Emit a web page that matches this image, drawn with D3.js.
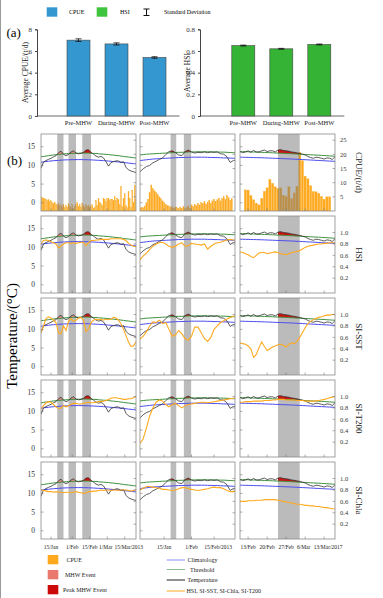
<!DOCTYPE html>
<html><head><meta charset="utf-8">
<script src="https://cdn.jsdelivr.net/npm/d3@7"></script>
<style>body{margin:0;background:#fff}svg{display:block;font-family:"Liberation Serif","Times New Roman",serif}</style>
</head><body><svg id="c" width="383" height="598"></svg>
<script>
// ---------- Panel (a) data ----------
const periods = ["Pre-MHW","During-MHW","Post-MHW"];
const cpueAvg = [7.0, 6.65, 5.4];
const cpueSd  = [0.12, 0.1, 0.07];
const hsiAvg  = [0.65, 0.62, 0.66];
const hsiSd   = [0.004, 0.004, 0.004];
const cpueTicksA = [0,2,4,6,8];
const hsiTicksA  = [0,0.2,0.4,0.6,0.8];

// ---------- Panel (b) time frames ----------
const colStart = ["2013-01-07","2012-12-31","2017-02-10"];
const colEnd   = ["2013-03-24","2013-02-28","2017-03-17"];
const seriesStep = [2,2,1];           // days between samples of line series
const cpueStart = ["2013-01-07","2012-12-31","2017-02-12"];
const tickDates = [
  ["2013-01-15","2013-02-01","2013-02-15","2013-03-01","2013-03-15"],
  ["2013-01-15","2013-02-01","2013-02-15"],
  ["2017-02-13","2017-02-20","2017-02-27","2017-03-06","2017-03-13"]];
const tickLabels = [
  ["15/Jan","1/Feb","15/Feb","1/Mar","15/Mar/2013"],
  ["15/Jan","1/Feb","15/Feb/2013"],
  ["13/Feb","20/Feb","27/Feb","6/Mar","13/Mar/2017"]];
const mhwWindows = [
  [["2013-01-20","2013-01-25"],["2013-01-29","2013-02-04"],["2013-02-09","2013-02-16"]],
  [["2013-01-19","2013-01-22T12:00"],["2013-01-27T06:00","2013-01-31T18:00"]],
  [["2017-02-24","2017-03-04"]]];
const mhwType = [["event","event","peak"],["peak","peak"],["peak"]];

// ---------- Temperature, threshold, climatology ----------
const temp1 = [9.2,10.9,11.3,11.6,11.9,12.3,12.6,13.4,13.8,13.0,12.6,12.9,13.6,13.9,13.3,13.1,13.2,13.5,14.1,14.2,13.5,13.0,12.5,12.2,12.4,12.0,11.0,9.8,10.8,11.0,11.2,11.2,10.8,11.0,9.5,8.8,8.5,8.3,8.1];
const thr1  = [12.3,12.4,12.5,12.6,12.7,12.8,12.85,12.9,13.0,13.05,13.1,13.15,13.2,13.2,13.25,13.25,13.3,13.3,13.3,13.3,13.25,13.2,13.2,13.1,13.05,13.0,12.95,12.9,12.8,12.75,12.65,12.6,12.5,12.4,12.3,12.25,12.15,12.05,12.0];
const clim1 = [10.85,10.95,11.05,11.1,11.2,11.25,11.3,11.35,11.4,11.45,11.48,11.5,11.52,11.54,11.55,11.55,11.55,11.54,11.52,11.5,11.47,11.44,11.4,11.36,11.32,11.27,11.22,11.16,11.1,11.04,10.98,10.92,10.85,10.78,10.7,10.62,10.55,10.47,10.4];
const temp2 = [8.3,9.1,9.7,10.0,10.7,11.1,11.6,12.0,12.9,13.7,13.9,13.4,12.8,12.6,13.7,14.1,13.6,13.3,13.5,13.4,13.6,13.4,13.6,13.5,13.6,13.1,13.0,12.3,10.8,11.3,11.5];
const thr2  = [12.8,12.9,13.0,13.05,13.1,13.15,13.2,13.25,13.3,13.35,13.4,13.45,13.5,13.5,13.55,13.6,13.6,13.6,13.65,13.65,13.65,13.65,13.6,13.6,13.6,13.55,13.55,13.5,13.45,13.4,13.4];
const clim2 = [11.3,11.4,11.5,11.6,11.7,11.75,11.8,11.85,11.9,11.95,12.0,12.05,12.1,12.1,12.15,12.15,12.2,12.2,12.2,12.2,12.2,12.15,12.15,12.1,12.1,12.05,12.0,12.0,11.95,11.9,11.9];
const temp3 = [13.7,13.4,13.6,13.9,13.5,14.0,13.6,13.6,13.9,14.1,13.7,13.9,13.9,13.6,14.1,14.2,14.0,13.9,13.8,13.6,13.5,13.35,13.2,13.0,12.8,12.4,12.1,11.9,12.2,12.1,11.9,11.7,12.0,11.9,11.6,12.3];
const thr3  = [13.7,13.68,13.66,13.64,13.61,13.58,13.55,13.52,13.49,13.46,13.43,13.4,13.37,13.33,13.3,13.26,13.23,13.19,13.15,13.12,13.08,13.04,13.0,12.96,12.92,12.88,12.84,12.8,12.76,12.72,12.68,12.64,12.59,12.54,12.49,12.44];
const clim3 = [12.2,12.18,12.16,12.14,12.12,12.1,12.08,12.06,12.04,12.01,11.98,11.95,11.92,11.89,11.86,11.83,11.8,11.77,11.74,11.71,11.68,11.64,11.6,11.56,11.52,11.48,11.44,11.4,11.36,11.32,11.28,11.24,11.2,11.16,11.12,11.08];

// ---------- CPUE (daily, t/d) ----------
const cpue1 = [5.0,4.8,4.5,4.4,4.2,3.8,4.0,3.5,3.6,3.0,2.8,3.2,2.4,2.2,2.6,1.8,2.2,1.5,2.4,1.2,2.0,1.4,2.6,1.8,1.2,2.2,1.0,1.8,2.5,3.0,1.6,2.2,1.4,2.8,2.0,1.2,2.4,1.6,2.0,1.4,1.8,2.2,1.0,1.4,3.8,2.0,4.4,3.2,2.6,2.0,4.6,4.2,3.4,4.4,4.6,3.8,4.2,4.2,3.6,5.0,3.8,4.6,4.0,2.2,8.8,1.6,4.4,6.2,2.0,1.2,6.8,4.4,1.4,7.4,3.2,9.2,4.0,1.2];
const cpue2 = [1.0,1.4,1.2,1.8,3.0,4.2,6.5,9.2,8.0,7.2,6.6,5.8,5.0,4.4,3.6,3.0,2.4,2.0,1.8,1.2,1.6,1.0,1.4,1.2,0.8,1.4,1.0,1.6,0.8,1.2,1.8,1.0,2.2,1.6,2.4,2.0,2.8,2.2,3.0,2.6,3.4,2.4,3.2,3.8,2.8,3.6,4.2,3.4,4.0,4.6,3.6,4.4,5.0,4.2,5.6,4.8,3.8,4.4];
const cpue3 = [7.5,7.4,5.5,4.0,2.8,2.2,4.5,7.0,8.2,11.2,9.8,8.6,8.0,8.2,5.6,5.2,8.6,4.4,6.4,8.8,20.8,17.8,12.3,11.4,9.0,6.9,6.8,6.3,5.2,4.2,5.0,5.0];

// ---------- Suitability indices ----------
const hsi1 = [0.80,0.86,0.87,0.86,0.84,0.82,0.80,0.73,0.76,0.80,0.82,0.82,0.81,0.82,0.81,0.82,0.83,0.83,0.77,0.82,0.86,0.86,0.87,0.87,0.88,0.88,0.88,0.88,0.89,0.89,0.89,0.89,0.89,0.88,0.86,0.81,0.78,0.76,0.75];
const hsi2 = [0.52,0.59,0.64,0.70,0.76,0.80,0.82,0.83,0.80,0.76,0.74,0.76,0.80,0.82,0.76,0.77,0.81,0.80,0.79,0.78,0.80,0.71,0.76,0.80,0.82,0.83,0.85,0.87,0.88,0.87,0.87];
const hsi3 = [0.66,0.65,0.63,0.61,0.58,0.56,0.60,0.64,0.65,0.65,0.63,0.64,0.65,0.66,0.65,0.63,0.62,0.61,0.63,0.65,0.66,0.67,0.68,0.71,0.74,0.76,0.77,0.78,0.79,0.80,0.80,0.81,0.81,0.82,0.82,0.82];
const sst1 = [0.68,0.80,0.93,0.96,0.94,0.90,0.86,0.68,0.66,0.80,0.72,0.88,0.93,0.88,0.90,0.94,0.95,0.90,0.70,0.75,0.86,0.90,0.92,0.91,0.92,0.90,0.92,0.91,0.92,0.95,0.94,0.90,0.84,0.74,0.63,0.52,0.44,0.45,0.52];
const sst2 = [0.57,0.62,0.70,0.80,0.87,0.86,0.90,0.84,0.86,0.74,0.62,0.64,0.72,0.66,0.58,0.55,0.62,0.78,0.78,0.68,0.58,0.53,0.60,0.74,0.80,0.86,0.89,0.92,0.95,0.97,0.98];
const sst3 = [0.50,0.49,0.48,0.45,0.40,0.25,0.30,0.42,0.52,0.44,0.37,0.40,0.43,0.45,0.47,0.48,0.46,0.43,0.48,0.50,0.49,0.53,0.60,0.68,0.77,0.84,0.88,0.91,0.93,0.95,0.96,0.98,0.99,0.99,1.00,1.00];
const t200_1 = [0.78,0.84,0.89,0.91,0.90,0.86,0.82,0.79,0.80,0.84,0.82,0.84,0.86,0.88,0.88,0.87,0.87,0.88,0.89,0.90,0.89,0.89,0.90,0.91,0.91,0.92,0.93,0.95,0.97,0.98,0.98,0.97,0.96,0.95,0.95,0.96,0.96,0.98,1.00];
const t200_2 = [0.18,0.26,0.45,0.66,0.80,0.90,0.94,0.92,0.86,0.82,0.86,0.88,0.84,0.80,0.84,0.86,0.87,0.88,0.89,0.90,0.90,0.89,0.90,0.91,0.92,0.93,0.94,0.95,0.96,0.97,0.97];
const t200_3 = [0.90,0.90,0.91,0.91,0.91,0.92,0.92,0.92,0.92,0.93,0.93,0.93,0.94,0.94,0.95,0.95,0.95,0.94,0.94,0.94,0.94,0.93,0.93,0.93,0.92,0.92,0.92,0.92,0.92,0.93,0.94,0.95,0.96,0.98,0.99,1.00];
const chla1 = [0.80,0.79,0.78,0.77,0.77,0.76,0.77,0.76,0.76,0.75,0.76,0.76,0.75,0.76,0.77,0.76,0.75,0.74,0.75,0.77,0.77,0.78,0.78,0.79,0.80,0.79,0.80,0.80,0.79,0.80,0.80,0.79,0.80,0.80,0.80,0.79,0.78,0.79,0.80];
const chla2 = [0.80,0.83,0.86,0.86,0.85,0.84,0.83,0.81,0.81,0.80,0.79,0.80,0.82,0.84,0.84,0.82,0.81,0.80,0.79,0.80,0.81,0.82,0.84,0.85,0.84,0.84,0.82,0.79,0.77,0.77,0.78];
const chla3 = [0.60,0.60,0.60,0.61,0.61,0.61,0.62,0.62,0.62,0.63,0.63,0.63,0.63,0.63,0.62,0.61,0.60,0.59,0.58,0.57,0.56,0.55,0.55,0.54,0.53,0.53,0.52,0.52,0.51,0.51,0.50,0.49,0.49,0.48,0.47,0.47];

const rowLabels = ["CPUE/(t/d)","HSI","SI-SST","SI-T200","SI-Chla"];
const tempTicks = [0,5,10,15];
const cpueTicksB = [5,10,15,20,25];
const siTicks = [0.2,0.4,0.6,0.8,1.0];

// ---------- styles ----------
const C_BLUEBAR="#3497cf", C_GREENBAR="#34b334", C_ORANGE="#ffa91f", C_SALMON="#e9796d", C_RED="#cc0a0a";
const C_CLIM="#4b4bf0", C_THR="#3f913f", C_TEMP="#333", C_SHADE="#777", C_FRAME="#8a8a8a";

const svg = d3.select("#c");
const DAY = 864e5;
const P = d3.isoParse;

svg.append("line").attr("x1",0.5).attr("x2",0.5).attr("y1",0).attr("y2",598).attr("stroke","#9a9a9a").attr("stroke-width",1);

// ================= Panel (a) =================
svg.append("rect").attr("x",46.7).attr("y",7.3).attr("width",10.6).attr("height",9.4).attr("fill",C_BLUEBAR);
svg.append("text").attr("x",69).attr("y",14.2).attr("font-size",6).text("CPUE");
svg.append("rect").attr("x",96.7).attr("y",7.3).attr("width",10.6).attr("height",9.4).attr("fill","#3ec43e");
svg.append("text").attr("x",120).attr("y",14.2).attr("font-size",6).text("HSI");
const eb = svg.append("g").attr("stroke","#111").attr("stroke-width",1);
eb.append("line").attr("x1",146.5).attr("x2",146.5).attr("y1",9).attr("y2",15.5);
eb.append("line").attr("x1",143.5).attr("x2",149.5).attr("y1",9).attr("y2",9);
eb.append("line").attr("x1",143.5).attr("x2",149.5).attr("y1",15.5).attr("y2",15.5);
svg.append("text").attr("x",164).attr("y",14.2).attr("font-size",6).text("Standard Deviation");
svg.append("text").attr("x",6.5).attr("y",37).attr("font-size",13).text("(a)");

function barChart(axisX, r0, r1, vals, sds, dom, ticks, fmt, fill, ylab, labX){
  const y = d3.scaleLinear().domain(dom).range([116,29.3]);
  const xb = d3.scaleBand().domain(periods).range([r0,r1]).paddingInner(0.395).paddingOuter(0.1975);
  const g = svg.append("g");
  g.append("g").attr("transform",`translate(${axisX},0)`)
    .call(d3.axisLeft(y).tickValues(ticks).tickSize(2).tickFormat(fmt))
    .call(a=>{a.select(".domain").attr("stroke","#444");a.selectAll("line").attr("stroke","#444");
      a.selectAll("text").attr("font-size",7).attr("font-family",'"Liberation Serif",serif').attr("fill","#333");});
  g.append("line").attr("x1",axisX).attr("x2",r1+6).attr("y1",116).attr("y2",116).attr("stroke","#444").attr("stroke-width",0.8);
  g.selectAll("rect.b").data(periods).join("rect")
    .attr("x",d=>xb(d)).attr("y",(d,i)=>y(vals[i])).attr("width",xb.bandwidth())
    .attr("height",(d,i)=>y(0)-y(vals[i])).attr("fill",fill).attr("stroke","#444").attr("stroke-width",0.6);
  periods.forEach((p,i)=>{
    const cx = xb(p)+xb.bandwidth()/2, lo=y(vals[i]-sds[i]), hi=y(vals[i]+sds[i]);
    g.append("line").attr("x1",cx).attr("x2",cx).attr("y1",lo).attr("y2",hi).attr("stroke","#111").attr("stroke-width",0.8);
    [lo,hi].forEach(v=>g.append("line").attr("x1",cx-3).attr("x2",cx+3).attr("y1",v).attr("y2",v).attr("stroke","#111").attr("stroke-width",0.8));
    g.append("text").attr("x",cx).attr("y",124.5).attr("text-anchor","middle").attr("font-size",6.5).attr("fill","#222").text(p);
  });
  g.append("text").attr("transform",`translate(${labX},72.5) rotate(-90)`).attr("text-anchor","middle")
    .attr("font-size",7.5).attr("fill","#222").text(ylab);
}
barChart(37, 59.5, 173.5, cpueAvg, cpueSd, [0,8], cpueTicksA, d3.format("d"), C_BLUEBAR, "Average CPUE/(t/d)", 28);
barChart(200, 224.3, 338.3, hsiAvg, hsiSd, [0,0.8], hsiTicksA, v=>v===0?"0":d3.format(".1f")(v), C_GREENBAR, "Average HSI", 190);

// ================= Panel (b) =================
svg.append("text").attr("x",7).attr("y",165).attr("font-size",13).text("(b)");
svg.append("text").attr("transform","translate(17,336) rotate(-90)").attr("text-anchor","middle")
  .attr("font-size",15).text("Temperature/(°C)");

const rowTop=[134,216,298,380,462], rowH=77;
const colX=[[41,136],[140,235],[240,335]];
const tempData=[temp1,temp2,temp3], thrData=[thr1,thr2,thr3], climData=[clim1,clim2,clim3];
const cpueData=[cpue1,cpue2,cpue3];
const siData=[[hsi1,hsi2,hsi3],[sst1,sst2,sst3],[t200_1,t200_2,t200_3],[chla1,chla2,chla3]];
const defs = svg.append("defs");
let clipN=0;
function clip(x,y,w,h){const id="cp"+(clipN++);defs.append("clipPath").attr("id",id).append("rect").attr("x",x).attr("y",y).attr("width",w).attr("height",h);return `url(#${id})`;}

for(let r=0;r<5;r++){
  const top=rowTop[r], bot=top+rowH;
  const yT=d3.scaleLinear().domain([-2.2,18.4]).range([bot,top]);
  const yR = r===0 ? d3.scaleLinear().domain([0,27.2]).range([bot,top]) : d3.scaleLinear().domain([-0.06,1.29]).range([bot,top]);
  for(let c=0;c<3;c++){
    const [x0,x1]=colX[c];
    const x=d3.scaleUtc().domain([P(colStart[c]),P(colEnd[c])]).range([x0,x1]);
    const g=svg.append("g");
    const cp=clip(x0,top,x1-x0,rowH);
    const inner=g.append("g").attr("clip-path",cp);
    const s0=P(colStart[c]);
    const pts=tempData[c].map((t,i)=>({date:new Date(+s0+i*seriesStep[c]*DAY),t,thr:thrData[c][i],cl:climData[c][i]}));
    if(r===0){
      const c0=P(cpueStart[c]); const pxd=(x1-x0)/((+P(colEnd[c])-+P(colStart[c]))/DAY); const bw=pxd*0.86;
      inner.selectAll("rect.cp").data(cpueData[c]).join("rect")
        .attr("x",(v,i)=>x(new Date(+c0+i*DAY))-bw/2).attr("width",bw)
        .attr("y",v=>yR(v)).attr("height",v=>yR(0)-yR(v)).attr("fill",C_ORANGE)
        .attr("stroke","#f5b84a").attr("stroke-width",0.2);
    }
    mhwWindows[c].forEach(w=>{
      inner.append("rect").attr("x",x(P(w[0]))).attr("width",x(P(w[1]))-x(P(w[0])))
        .attr("y",top).attr("height",rowH).attr("fill",C_SHADE).attr("opacity",0.5);
    });
    const area=d3.area().x(d=>x(d.date)).y0(d=>yT(d.thr)).y1(d=>yT(Math.max(d.t,d.thr)));
    mhwWindows[c].forEach((w,i)=>{
      const cpw=clip(x(P(w[0])),top,x(P(w[1]))-x(P(w[0])),rowH);
      inner.append("g").attr("clip-path",cpw).append("path").attr("d",area(pts))
        .attr("fill",mhwType[c][i]==="peak"?C_RED:C_SALMON).attr("opacity",mhwType[c][i]==="peak"?0.95:0.75);
    });
    const ln=(f)=>d3.line().x(d=>x(d.date)).y(f);
    inner.append("path").attr("d",ln(d=>yT(d.cl))(pts)).attr("fill","none").attr("stroke",C_CLIM).attr("stroke-width",1);
    inner.append("path").attr("d",ln(d=>yT(d.thr))(pts)).attr("fill","none").attr("stroke",C_THR).attr("stroke-width",1);
    inner.append("path").attr("d",ln(d=>yT(d.t))(pts)).attr("fill","none").attr("stroke",C_TEMP).attr("stroke-width",0.8);
    if(r>0){
      const arr=siData[r-1][c];
      const sp=arr.map((v,i)=>({date:new Date(+s0+i*seriesStep[c]*DAY),v}));
      inner.append("path").attr("d",d3.line().x(d=>x(d.date)).y(d=>yR(d.v))(sp))
        .attr("fill","none").attr("stroke",C_ORANGE).attr("stroke-width",1.1);
    }
    g.append("rect").attr("x",x0).attr("y",top).attr("width",x1-x0).attr("height",rowH)
      .attr("fill","none").attr("stroke",C_FRAME).attr("stroke-width",0.8);
    const tk=g.append("g").attr("stroke","#777").attr("stroke-width",0.6);
    tempTicks.forEach(v=>tk.append("line").attr("x1",x0).attr("x2",x0+2.5).attr("y1",yT(v)).attr("y2",yT(v)));
    const rt = r===0?cpueTicksB:siTicks;
    rt.forEach(v=>tk.append("line").attr("x1",x1-2.5).attr("x2",x1).attr("y1",yR(v)).attr("y2",yR(v)));
    tickDates[c].forEach(d=>tk.append("line").attr("x1",x(P(d))).attr("x2",x(P(d))).attr("y1",bot).attr("y2",bot-2.5));
    if(c===0){
      tempTicks.forEach(v=>g.append("text").attr("x",x0-6).attr("y",yT(v)+2.5).attr("text-anchor","end")
        .attr("font-size",7.5).attr("fill","#333").text(v));
    }
    if(c===2){
      rt.forEach(v=>g.append("text").attr("x",x1+5).attr("y",yR(v)+2.2)
        .attr("font-size",6.5).attr("fill","#333").text(r===0?v:d3.format(".1f")(v)));
      g.append("text").attr("transform",`translate(356,${top+rowH/2}) rotate(90)`).attr("text-anchor","middle")
        .attr("font-size",9).attr("fill","#222").text(rowLabels[r]);
    }
    if(r===4){
      const n=tickDates[c].length;
      tickDates[c].forEach((d,i)=>g.append("text").attr("x",x(P(d))+(i===n-1?4:(i===n-2&&c!==1?-1.5:0))).attr("y",bot+10)
        .attr("text-anchor","middle").attr("font-size",5.5).attr("fill","#222").text(tickLabels[c][i]));
    }
  }
}

// ---------- bottom legend ----------
const lg=svg.append("g").attr("font-size",6).attr("fill","#222");
[[C_ORANGE,"CPUE",555,66.5],[C_SALMON,"MHW Event",570,65],[C_RED,"Peak MHW Event",585,63]].forEach(([col,t,y,tx])=>{
  lg.append("rect").attr("x",47.7).attr("y",y).attr("width",10.6).attr("height",9.3).attr("fill",col);
  lg.append("text").attr("x",tx).attr("y",y+6.5).text(t);
});
[["#8a8aff","Climatology",560,187.5],["#8fbf8f","Threshold",569.5,190],["#222","Temperature",580,187.5],[C_ORANGE,"HSI, SI-SST, SI-Chla, SI-T200",591,186.5]].forEach(([col,t,y,tx])=>{
  lg.append("line").attr("x1",166.7).attr("x2",185).attr("y1",y).attr("y2",y).attr("stroke",col).attr("stroke-width",1);
  lg.append("text").attr("x",tx).attr("y",y+2).text(t);
});
</script></body></html>
